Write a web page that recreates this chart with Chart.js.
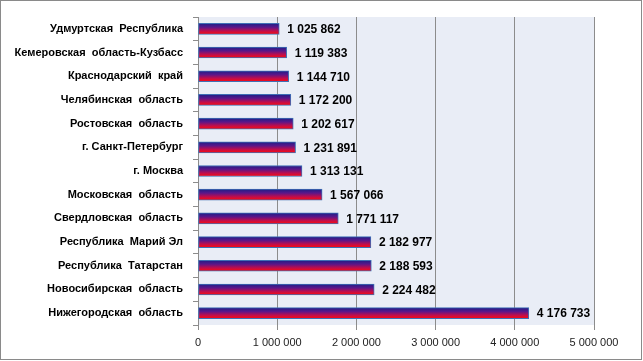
<!DOCTYPE html>
<html>
<head>
<meta charset="utf-8">
<script src="https://cdn.jsdelivr.net/npm/chart.js@4/dist/chart.umd.min.js"></script>
<style>
  html, body { margin: 0; padding: 0; background: #fff; }
  #wrap { width: 643px; height: 361px; position: relative; }
</style>
</head>
<body>
<div id="wrap"><canvas id="regionsChart"></canvas></div>
<script>
// regions, top to bottom as in the picture
var regions = [
    'Удмуртская  Республика',
    'Кемеровская  область-Кузбасс',
    'Краснодарский  край',
    'Челябинская  область',
    'Ростовская  область',
    'г. Санкт-Петербург',
    'г. Москва',
    'Московская  область',
    'Свердловская  область',
    'Республика  Марий Эл',
    'Республика  Татарстан',
    'Новосибирская  область',
    'Нижегородская  область'
];
var values = [1025862, 1119383, 1144710, 1172200, 1202617, 1231891, 1313131,
              1567066, 1771117, 2182977, 2188593, 2224482, 4176733];
var axisMax = 5000000;
var axisStep = 1000000;

function spaced(n) {
    return String(n).replace(/\B(?=(\d{3})+(?!\d))/g, ' ');
}

var BAR_H = 11;

function barGradient(ctx) {
    var chart = ctx.chart;
    if (!chart.chartArea || !chart.scales.y) return '#6a1a8a';
    var yc = chart.scales.y.getPixelForValue(ctx.dataIndex);
    var g = chart.ctx.createLinearGradient(0, yc - BAR_H / 2, 0, yc + BAR_H / 2);
    g.addColorStop(0, '#1c1f86');
    g.addColorStop(0.35, '#5a168a');
    g.addColorStop(0.7, '#c20d4a');
    g.addColorStop(1, '#ff0a0a');
    return g;
}

// plot background + outer frame
var frame = {
    id: 'frame',
    beforeDraw: function(chart) {
        var c = chart.ctx, a = chart.chartArea;
        c.save();
        c.fillStyle = '#fff';
        c.fillRect(0, 0, chart.width, chart.height);
        c.fillStyle = '#e9edf6';
        c.fillRect(a.left, a.top, a.right - a.left, a.bottom - a.top);
        c.restore();
    },
    afterDraw: function(chart) {
        var c = chart.ctx;
        c.save();
        c.strokeStyle = '#8a8a8a';
        c.lineWidth = 1;
        c.strokeRect(0.5, 0.5, chart.width - 2, chart.height - 2);
        c.restore();
    }
};

// value labels at bar ends
var valueLabels = {
    id: 'valueLabels',
    afterDatasetsDraw: function(chart) {
        var c = chart.ctx;
        var meta = chart.getDatasetMeta(0);
        c.save();
        c.font = 'bold 12px "Liberation Sans", Arial, sans-serif';
        c.fillStyle = '#000';
        c.textAlign = 'left';
        c.textBaseline = 'middle';
        meta.data.forEach(function(bar, i) {
            c.fillText(spaced(values[i]), bar.x + 8, bar.y + 1);
        });
        c.restore();
    }
};

var chartCanvas = document.getElementById('regionsChart').getContext('2d');
new Chart(chartCanvas, {
    type: 'bar',
    data: {
        labels: regions,
        datasets: [{
            data: values,
            backgroundColor: barGradient,
            borderColor: '#3f6fb5',
            borderWidth: 1,
            borderSkipped: false,
            barThickness: BAR_H
        }]
    },
    options: {
        indexAxis: 'y',
        responsive: true,
        maintainAspectRatio: false,
        animation: false,
        devicePixelRatio: 1,
        layout: { padding: { top: 17, right: 49, left: 0, bottom: 0 } },
        plugins: { legend: { display: false }, tooltip: { enabled: false } },
        scales: {
            x: {
                min: 0,
                max: axisMax,
                ticks: {
                    stepSize: axisStep,
                    padding: 6,
                    color: '#222',
                    font: { family: '"Liberation Sans", Arial, sans-serif', size: 11 },
                    callback: function(v) { return spaced(v); }
                },
                grid: { color: '#8c8c8c', lineWidth: 1, tickLength: 5, tickColor: '#8c8c8c' },
                border: { display: false },
                afterFit: function(s) { s.height = 36; }
            },
            y: {
                ticks: {
                    padding: 10,
                    color: '#000',
                    font: { family: '"Liberation Sans", Arial, sans-serif', size: 11, weight: 'bold' }
                },
                grid: { offset: true, drawOnChartArea: false, tickLength: 5, color: '#8c8c8c' },
                border: { display: true, color: '#8c8c8c', width: 1 },
                afterFit: function(s) { s.width = 198; }
            }
        }
    },
    plugins: [frame, valueLabels]
});
</script>
</body>
</html>
